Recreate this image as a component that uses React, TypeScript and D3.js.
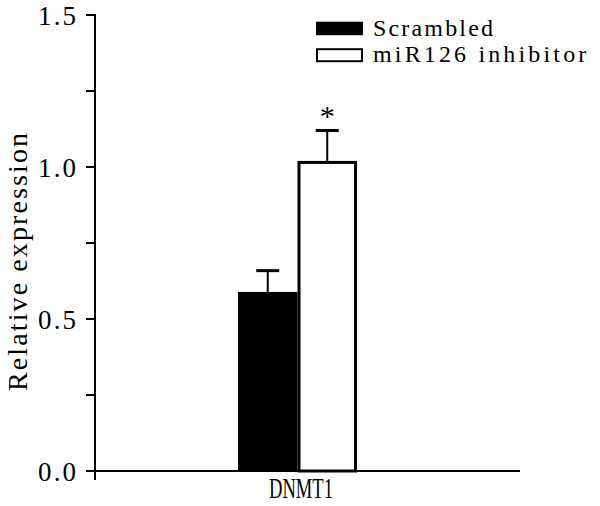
import React from "react";
import * as d3 from "d3";

const categories = ["DNMT1"];
const seriesNames = ["Scrambled", "miR126 inhibitor"];
const means = [0.589, 1.02];
const errors = [0.07, 0.1];
const significance = ["", "*"];
const majorTicks = [0, 0.5, 1.0, 1.5];
const minorTicks = [0.25, 0.75, 1.25];
const yLabel = "Relative expression";

const FONT = "'Liberation Serif', 'DejaVu Serif', serif";

export default function App() {
  const W = 600, H = 506;
  const axisX = 95;
  const y = d3.scaleLinear().domain([0, 1.5]).range([471, 15]);
  const groupCenter = 297.5;
  const barW = 59.5;
  const x0 = d3.scaleBand().domain(categories).range([groupCenter - barW, groupCenter + barW]);
  const x1 = d3.scaleBand().domain(seriesNames).range([x0(categories[0])!, x0(categories[0])! + x0.bandwidth()]);

  return (
    <svg width={W} height={H} style={{ position: "absolute", left: 0, top: 0, background: "#fff" }}>
      {/* bars */}
      {seriesNames.map((s, i) => {
        const bx = x1(s)!;
        const bw = x1.bandwidth();
        const top = y(means[i]);
        const cx = bx + bw / 2;
        const errTop = y(means[i] + errors[i]);
        return (
          <g key={s}>
            <line x1={cx} x2={cx} y1={top} y2={errTop} stroke="#000" strokeWidth={2} />
            <line x1={cx - 11.5} x2={cx + 11.5} y1={errTop} y2={errTop} stroke="#000" strokeWidth={3} />
            {i === 0 ? (
              <rect x={bx} y={top} width={bw} height={y(0) - top} fill="#000" />
            ) : (
              <rect x={bx + 1.5} y={top + 1.5} width={bw - 3} height={y(0) - top - 1.5} fill="#fff" stroke="#000" strokeWidth={3} />
            )}
            {significance[i] && (
              <text x={cx} y={errTop - 5} textAnchor="middle" fontFamily={FONT} fontSize={30} fill="#000">
                {significance[i]}
              </text>
            )}
          </g>
        );
      })}
      {/* axes */}
      <line x1={axisX} x2={axisX} y1={y(1.5) - 1} y2={480} stroke="#000" strokeWidth={2} />
      <line x1={86} x2={520} y1={y(0)} y2={y(0)} stroke="#000" strokeWidth={2} />
      {majorTicks.map((t) => (
        <g key={"M" + t}>
          <line x1={86} x2={axisX} y1={y(t)} y2={y(t)} stroke="#000" strokeWidth={2} />
          <text
            x={38}
            y={y(t) + 9.5}
            fontFamily={FONT}
            fontSize={27}
            fill="#000"
            textLength={38}
            lengthAdjust="spacing"
          >
            {t.toFixed(1)}
          </text>
        </g>
      ))}
      {minorTicks.map((t) => (
        <line key={"m" + t} x1={86} x2={axisX} y1={y(t)} y2={y(t)} stroke="#000" strokeWidth={2} />
      ))}
      {/* y label */}
      <text
        transform={`translate(26.5,${(133 + 391) / 2}) rotate(-90)`}
        textAnchor="middle"
        fontFamily={FONT}
        fontSize={28}
        fill="#000"
        textLength={258}
        lengthAdjust="spacing"
      >
        {yLabel}
      </text>
      {/* x label */}
      {categories.map((c) => (
        <text
          key={c}
          x={x0(c)! + x0.bandwidth() / 2 + 3.5 - 32}
          y={498}
          fontFamily={FONT}
          fontSize={29}
          fill="#000"
          textLength={64}
          lengthAdjust="spacingAndGlyphs"
        >
          {c}
        </text>
      ))}
      {/* legend */}
      {seriesNames.map((s, i) => {
        const ly = 21.7 + i * 26.5;
        return (
          <g key={"lg" + s}>
            {i === 0 ? (
              <rect x={316} y={ly} width={47} height={13.5} fill="#000" />
            ) : (
              <rect x={317} y={ly + 1} width={45} height={12} fill="#fff" stroke="#000" strokeWidth={2} />
            )}
            <text
              x={373}
              y={ly + 13.8}
              fontFamily={FONT}
              fontSize={24}
              fill="#000"
              textLength={s.length * 13.33}
              lengthAdjust="spacing"
            >
              {s}
            </text>
          </g>
        );
      })}
    </svg>
  );
}
